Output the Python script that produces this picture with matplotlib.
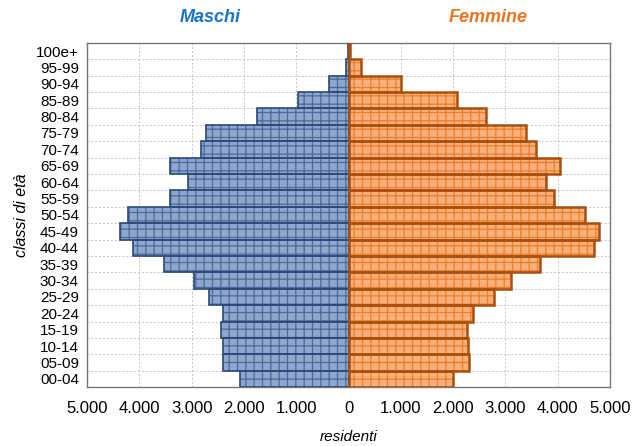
import matplotlib
matplotlib.use("Agg")
import matplotlib.pyplot as plt
import numpy as np

plt.rcParams['font.family'] = ['Liberation Sans', 'DejaVu Sans']
plt.rcParams['hatch.linewidth'] = 0.9

# age classes, bottom to top
classi = ["00-04", "05-09", "10-14", "15-19", "20-24", "25-29", "30-34",
          "35-39", "40-44", "45-49", "50-54", "55-59", "60-64", "65-69",
          "70-74", "75-79", "80-84", "85-89", "90-94", "95-99", "100e+"]
maschi = [2082, 2408, 2408, 2446, 2400, 2669, 2950, 3538, 4132, 4368, 4228,
          3416, 3079, 3423, 2830, 2734, 1757, 964, 377, 50, 8]
femmine = [1997, 2310, 2291, 2272, 2381, 2778, 3105, 3668, 4692, 4800, 4525,
           3937, 3777, 4052, 3590, 3399, 2625, 2081, 1012, 230, 35]
xticks = [-5000, -4000, -3000, -2000, -1000, 0, 1000, 2000, 3000, 4000, 5000]
xticklabels = ["5.000", "4.000", "3.000", "2.000", "1.000", "0",
               "1.000", "2.000", "3.000", "4.000", "5.000"]

y = np.arange(len(classi))
m = -np.array(maschi)
f = np.array(femmine)

fig = plt.figure(figsize=(6.32, 4.46), dpi=100)
ax = fig.add_axes([0.138, 0.132, 0.827, 0.772])

# fill + hatch (hatch takes edgecolor), then outline on top
ax.barh(y, m, height=1.0, facecolor='#8EA8CD', edgecolor='#4A6A9C', hatch='++', linewidth=0.1, zorder=2)
ax.barh(y, m, height=1.0, fill=False, edgecolor='#2B4A7A', linewidth=1.2, zorder=3)
ax.barh(y, f, height=1.0, facecolor='#F7B07A', edgecolor='#EE7F2A', hatch='++', linewidth=0.1, zorder=2)
ax.barh(y, f, height=1.0, fill=False, edgecolor='#A8500F', linewidth=1.8, zorder=3)

ax.set_xlim(-5000, 5000)
ax.set_ylim(-0.5, len(classi) - 0.5)
ax.set_xticks(xticks)
ax.set_xticklabels(xticklabels, fontsize=12)
ax.set_yticks(y)
ax.set_yticklabels(classi, fontsize=11)
ax.tick_params(axis='both', length=0, pad=6)
ax.tick_params(axis='x', pad=10)

# gridlines at row boundaries and thousands
for yy in np.arange(-0.5, len(classi), 1.0):
    ax.axhline(yy, color='#C4C4C4', lw=0.7, ls=(0, (2, 2)), zorder=1)
for xx in xticks:
    ax.axvline(xx, color='#C4C4C4', lw=0.7, ls=(0, (2, 2)), zorder=1)

for s in ax.spines.values():
    s.set_color('#777777')
    s.set_linewidth(1.0)

ax.set_xlabel("residenti", fontsize=11, style='italic', labelpad=10)
ax.set_ylabel("classi di età", fontsize=11.5, style='italic', labelpad=5)

fig.text(210 / 632, 1 - 18 / 446, "Maschi", color='#1A74C9', fontsize=13,
         weight='bold', style='italic', ha='center', va='center')
fig.text(488 / 632, 1 - 18 / 446, "Femmine", color='#EA7420', fontsize=13,
         weight='bold', style='italic', ha='center', va='center')

fig.savefig("out.png", dpi=100)
